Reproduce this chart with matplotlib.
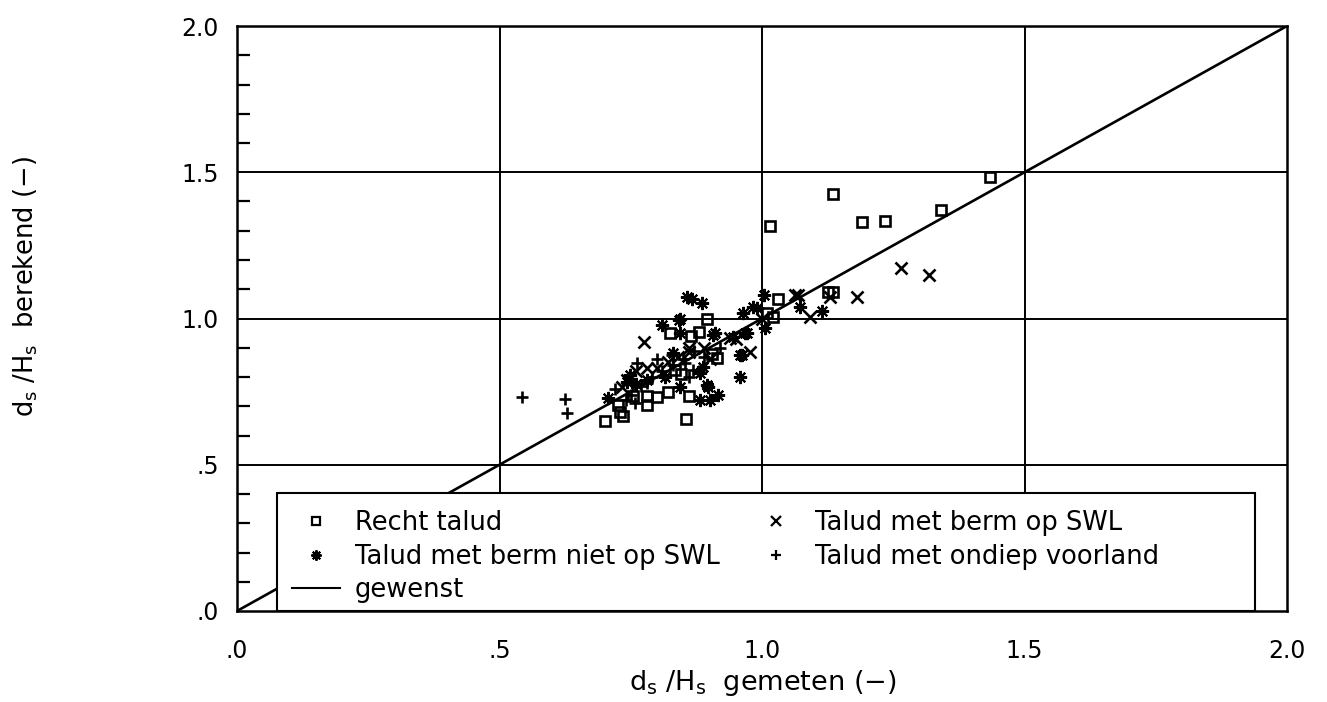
import matplotlib
matplotlib.use("Agg")
import matplotlib.pyplot as plt
from matplotlib.lines import Line2D
from matplotlib.patches import Rectangle
import numpy as np

# ---- data (gemeten, berekend) ----
recht_x = [0.70, 0.735, 0.855, 0.725, 0.73, 0.755, 0.78, 0.78, 0.80, 0.82, 0.86, 0.845,
           0.835, 0.905, 0.915, 0.825, 0.865, 0.88, 0.895, 1.01, 1.02, 1.03, 1.015, 1.135,
           1.19, 1.235, 1.34, 1.435, 1.135, 1.125]
recht_y = [0.65, 0.665, 0.655, 0.705, 0.68, 0.735, 0.705, 0.735, 0.73, 0.75, 0.735, 0.81,
           0.825, 0.88, 0.865, 0.95, 0.94, 0.955, 1.00, 1.02, 1.005, 1.065, 1.315, 1.425,
           1.33, 1.335, 1.37, 1.485, 1.09, 1.09]

niet_swl_x = [0.857, 0.867, 0.885, 0.841, 0.809, 0.844, 0.91, 0.964, 1.003, 0.99, 1.006,
              0.971, 0.958, 0.958, 0.898, 0.917, 0.882, 0.90, 0.707, 0.749, 0.882, 0.888,
              0.844, 1.072, 1.114, 0.983, 0.968, 0.742, 0.895, 0.945, 0.83, 0.844, 0.907,
              0.961, 0.78, 0.815, 0.76]
niet_swl_y = [1.075, 1.065, 1.052, 0.995, 0.978, 0.95, 0.95, 1.018, 1.080, 1.035, 0.966,
              0.949, 0.875, 0.801, 0.767, 0.738, 0.721, 0.721, 0.727, 0.807, 0.813, 0.835,
              0.767, 1.040, 1.026, 1.04, 0.949, 0.784, 0.773, 0.938, 0.882, 1.0, 0.944,
              0.875, 0.79, 0.80, 0.775]

op_swl_x = [0.775, 0.977, 0.939, 1.063, 0.86, 0.78, 0.80, 0.742, 0.733, 1.265, 1.319,
            1.18, 1.13, 1.091, 1.069, 0.90, 0.82, 0.76, 0.89, 0.95, 0.84, 1.0, 0.86]
op_swl_y = [0.921, 0.887, 0.932, 1.080, 0.887, 0.83, 0.83, 0.79, 0.767, 1.174, 1.149,
            1.075, 1.075, 1.006, 1.080, 0.86, 0.85, 0.82, 0.90, 0.93, 0.87, 1.0, 0.898]

voorland_x = [0.542, 0.625, 0.628, 0.72, 0.75, 0.77, 0.79, 0.81, 0.83, 0.85, 0.87, 0.88,
              0.86, 0.80, 0.74, 0.78, 0.89, 0.92, 0.828, 0.853, 0.761, 0.758, 0.869]
voorland_y = [0.731, 0.725, 0.676, 0.76, 0.74, 0.77, 0.80, 0.82, 0.84, 0.86, 0.89, 0.82,
              0.80, 0.86, 0.72, 0.78, 0.87, 0.90, 0.875, 0.848, 0.847, 0.711, 0.824]

gewenst = [0.0, 2.0]

tick_vals = [0.0, 0.5, 1.0, 1.5, 2.0]
tick_txt = [".0", ".5", "1.0", "1.5", "2.0"]

plt.rcParams['font.family'] = ['DejaVu Sans']

fig = plt.figure(figsize=(13.27, 7.02), dpi=100)
ax = fig.add_axes([237/1327, 1-611/702, 1050/1327, 585/702])

ax.set_xlim(0, 2)
ax.set_ylim(0, 2)

# grid
for v in [0.5, 1.0, 1.5]:
    ax.axhline(v, color='black', lw=1.4, zorder=1)
    ax.axvline(v, color='black', lw=1.4, zorder=1)

ax.plot(gewenst, gewenst, color='black', lw=1.9, zorder=2)

mk = dict(linestyle='none', color='black', zorder=4)
ax.plot(recht_x, recht_y, marker='s', markersize=7.5, markerfacecolor='none',
        markeredgewidth=1.9, **mk)
# asterisk-like blob: small filled dot with 8 spokes
ax.plot(niet_swl_x, niet_swl_y, marker='o', markersize=4.5, markeredgewidth=0, **mk)
ax.plot(niet_swl_x, niet_swl_y, marker=(8, 2, 0), markersize=9.5, markeredgewidth=1.5, **mk)
ax.plot(op_swl_x, op_swl_y, marker='x', markersize=8.5, markeredgewidth=1.9, **mk)
ax.plot(voorland_x, voorland_y, marker='+', markersize=8.5, markeredgewidth=1.9, **mk)

# legend box (covers the lower part of the plot)
ax.add_patch(Rectangle((0.076, 0.0), 1.939-0.076, 0.403, facecolor='white',
                       edgecolor='black', lw=1.5, zorder=5))

h_sq = Line2D([], [], marker='s', markersize=5.5, markerfacecolor='none',
              markeredgewidth=1.6, linestyle='none', color='black')
h_st = Line2D([], [], marker=(8, 2, 0), markersize=7.5, markeredgewidth=1.4,
              linestyle='none', color='black')
h_dot = Line2D([], [], marker='o', markersize=3.5, markeredgewidth=0,
               linestyle='none', color='black')
h_ln = Line2D([], [], color='black', lw=1.5)
h_x = Line2D([], [], marker='x', markersize=6.5, markeredgewidth=1.6,
             linestyle='none', color='black')
h_pl = Line2D([], [], marker='+', markersize=7, markeredgewidth=1.6,
              linestyle='none', color='black')

lkw = dict(loc='upper left', frameon=False, fontsize=18.5, borderpad=0,
           borderaxespad=0, handlelength=1.85, handletextpad=0.6,
           labelspacing=0.3, bbox_transform=ax.transData)
leg1 = ax.legend([h_sq, (h_dot, h_st), h_ln],
                 ["Recht talud", "Talud met berm niet op SWL", "gewenst"],
                 bbox_to_anchor=(0.105, 0.346), **lkw)
leg1.set_zorder(6)
ax.add_artist(leg1)
leg2 = ax.legend([h_x, h_pl], ["Talud met berm op SWL", "Talud met ondiep voorland"],
                 bbox_to_anchor=(0.981, 0.346), **lkw)
leg2.set_zorder(6)

# ticks
ax.set_xticks(tick_vals)
ax.set_xticklabels(tick_txt)
ax.set_yticks(tick_vals)
ax.set_yticklabels(tick_txt)
ax.set_yticks(np.arange(0, 2.01, 0.1), minor=True)
ax.tick_params(axis='x', length=0, pad=20, labelsize=17)
ax.tick_params(axis='y', which='major', length=0, pad=13, labelsize=17)
ax.tick_params(axis='y', which='minor', direction='in', length=9, width=1.6)
ax.tick_params(axis='x', which='minor', length=0)

for s in ax.spines.values():
    s.set_linewidth(1.8)
    s.set_zorder(7)

fig.text(763/1327, 1-683/702, r"d$_\mathregular{s}$ /H$_\mathregular{s}$  gemeten (−)",
         ha='center', va='center', fontsize=19.5)
fig.text(26/1327, 1-287/702, r"d$_\mathregular{s}$ /H$_\mathregular{s}$  berekend (−)",
         ha='center', va='center', rotation=90, fontsize=18.5)

fig.savefig("out.png", dpi=100)
